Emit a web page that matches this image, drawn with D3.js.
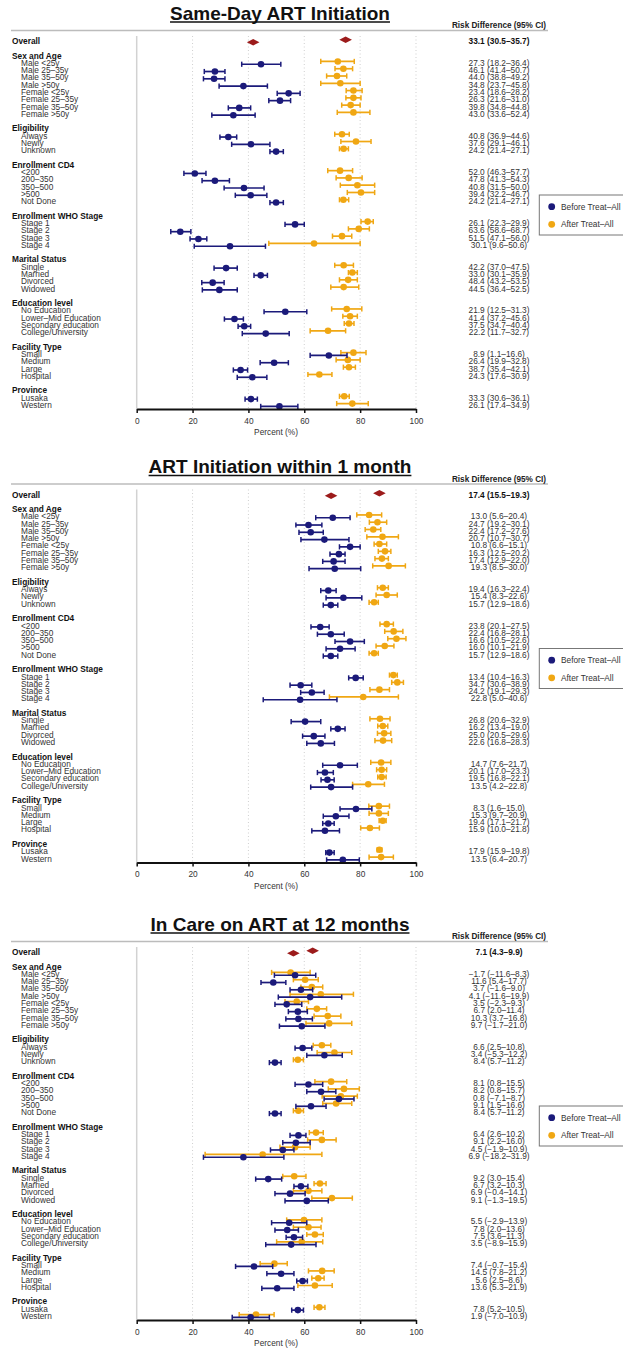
<!DOCTYPE html>
<html>
<head>
<meta charset="utf-8">
<script src="https://cdn.jsdelivr.net/npm/d3@7"></script>
<style>
  body { margin: 0; background: #fff; }
  svg { display: block; }
  text { font-family: "Liberation Sans", Arial, Helvetica, sans-serif; }
</style>
</head>
<body>
<svg id="vis" width="623" height="1351"></svg>
<script>
// ---- categories ----
var groupNames = ["Sex and Age", "Eligibility", "Enrollment CD4", "Enrollment WHO Stage",
                  "Marital Status", "Education level", "Facility Type", "Province"];
var groupItems = [
  ["Male <25y", "Male 25\u201335y", "Male 35\u201350y", "Male >50y",
   "Female <25y", "Female 25\u201335y", "Female 35\u201350y", "Female >50y"],
  ["Always", "Newly", "Unknown"],
  ["<200", "200\u2013350", "350\u2013500", ">500", "Not Done"],
  ["Stage 1", "Stage 2", "Stage 3", "Stage 4"],
  ["Single", "Married", "Divorced", "Widowed"],
  ["No Education", "Lower\u2013Mid Education", "Secondary education", "College/University"],
  ["Small", "Medium", "Large", "Hospital"],
  ["Lusaka", "Western"]
];
var panelTitles = ["Same-Day ART Initiation", "ART Initiation within 1 month", "In Care on ART at 12 months"];
var seriesNames = ["Before Treat\u2013All", "After Treat\u2013All"];
var xTicks = [0, 20, 40, 60, 80, 100];

// ---- panel 1: same-day initiation, [estimate, lower, upper] ----
var sameDayOverall = [41.7, 74.8];
var sameDayBefore = [
  [44.5,37.6,51.6],[28.0,24.2,31.6],[27.7,23.9,31.6],[38.2,29.5,46.8],[54.4,50.3,58.5],[51.3,47.3,55.1],[36.7,32.8,40.8],[34.6,26.9,42.4],
  [32.8,29.8,35.8],[40.9,34.0,47.7],[49.9,47.7,52.5],
  [20.8,16.9,24.8],[28.0,23.4,33.2],[38.4,31.3,45.6],[40.8,35.3,46.6],[49.9,47.7,52.5],
  [56.7,53.1,60.0],[15.6,12.2,19.4],[22.1,19.1,25.1],[33.4,20.6,46.1],
  [32.0,27.7,36.0],[44.4,42.0,46.8],[27.2,23.3,31.3],[29.6,23.5,36.0],
  [53.2,45.6,60.9],[35.0,31.4,38.2],[38.5,36.3,40.8],[46.2,37.8,54.6],
  [68.8,62.1,75.3],[49.2,44.2,54.3],[37.2,34.6,39.7],[41.4,36.0,46.6],
  [40.9,38.8,43.2],[51.1,44.4,57.7]
];
var sameDayAfter = [
  [72.0,65.9,77.9],[74.0,71.0,77.3],[71.7,68.0,75.2],[72.9,65.9,80.0],[77.6,75.0,80.7],[77.6,74.9,80.3],[76.6,73.4,80.0],[77.6,71.8,83.5],
  [73.5,70.9,76.1],[78.5,73.1,83.9],[74.1,72.6,75.8],
  [72.8,68.4,77.3],[75.9,71.4,80.7],[79.0,72.9,85.2],[80.3,75.4,85.2],[74.0,72.6,75.9],
  [82.7,80.3,84.7],[79.5,75.8,83.3],[73.5,70.1,77.0],[63.5,47.3,80.0],
  [74.1,70.9,77.6],[77.2,75.8,79.0],[75.7,72.6,79.0],[74.1,69.5,79.5],
  [75.2,69.8,80.6],[76.4,73.8,79.0],[76.0,74.3,77.8],[68.5,62.1,74.8],
  [77.6,73.1,82.1],[75.6,71.4,80.0],[76.0,74.0,78.3],[65.4,61.3,69.9],
  [74.3,72.6,76.1],[77.2,71.6,82.9]
];
var sameDayRD = [
  "33.1 (30.5\u201335.7)",
  "27.3 (18.2\u201336.4)","46.1 (41.4\u201350.7)","44.0 (38.8\u201349.2)","34.8 (23.7\u201345.8)","23.4 (18.6\u201328.2)","26.3 (21.6\u201331.0)","39.8 (34.8\u201344.8)","43.0 (33.6\u201352.4)",
  "40.8 (36.9\u201344.6)","37.6 (29.1\u201346.1)","24.2 (21.4\u201327.1)",
  "52.0 (46.3\u201357.7)","47.8 (41.3\u201354.3)","40.8 (31.5\u201350.0)","39.4 (32.2\u201346.7)","24.2 (21.4\u201327.1)",
  "26.1 (22.3\u201329.9)","63.6 (58.6\u201368.7)","51.5 (47.1\u201356.0)","30.1 (9.6\u201350.6)",
  "42.2 (37.0\u201347.5)","33.0 (30.1\u201335.9)","48.4 (43.2\u201353.5)","44.5 (36.4\u201352.5)",
  "21.9 (12.5\u201331.3)","41.4 (37.2\u201345.6)","37.5 (34.7\u201340.4)","22.2 (11.7\u201332.7)",
  "8.9 (1.1\u201316.6)","26.4 (19.9\u201332.8)","38.7 (35.4\u201342.1)","24.3 (17.6\u201330.9)",
  "33.3 (30.6\u201336.1)","26.1 (17.4\u201334.9)"
];

// ---- panel 2: initiation within 1 month ----
var oneMonthOverall = [69.6, 86.9];
var oneMonthBefore = [
  [70.2,64.1,76.4],[61.5,57.0,66.3],[62.3,58.1,66.8],[67.2,58.8,76.0],[76.4,72.6,80.0],[72.4,69.2,74.6],[70.5,66.6,74.6],[70.9,61.7,80.2],
  [68.6,65.9,71.4],[74.0,67.8,80.6],[69.5,66.8,72.0],
  [65.7,62.4,68.9],[69.5,64.7,74.3],[76.4,71.0,81.5],[72.8,67.8,78.2],[69.5,66.8,72.0],
  [78.4,75.9,81.1],[58.7,54.9,62.7],[62.7,58.7,67.1],[58.5,45.3,71.7],
  [60.3,55.3,65.9],[72.0,69.5,74.6],[63.4,59.4,67.4],[65.9,60.9,70.8],
  [72.8,66.6,79.0],[67.4,64.7,70.4],[68.3,66.0,70.7],[69.6,62.3,77.3],
  [78.5,72.8,84.2],[71.3,66.8,76.0],[68.6,66.6,70.7],[67.4,62.7,72.6],
  [69.0,67.7,70.7],[73.8,68.0,79.7]
];
var oneMonthAfter = [
  [83.2,78.8,87.7],[86.2,83.3,89.5],[84.7,81.8,87.4],[88.0,82.4,93.7],[86.9,85.0,89.5],[88.9,86.5,91.0],[87.8,85.3,90.1],[90.2,84.5,96.2],
  [88.1,86.2,90.1],[89.5,85.7,93.3],[85.0,83.2,86.5],
  [89.5,87.1,91.9],[92.0,88.8,95.3],[93.0,89.9,96.4],[88.8,85.7,92.1],[85.0,83.2,86.5],
  [91.9,90.5,93.3],[93.3,91.3,95.5],[86.9,83.5,90.5],[81.1,69.0,93.7],
  [87.1,83.5,90.7],[88.1,86.3,89.9],[88.6,86.2,91.0],[88.2,85.3,91.3],
  [87.5,83.8,91.0],[87.7,85.9,89.5],[87.7,86.3,89.3],[82.9,77.3,88.7],
  [86.7,83.1,90.5],[86.7,83.2,90.1],[88.1,86.8,89.3],[83.5,80.2,86.9],
  [86.9,86.1,87.8],[87.5,83.2,91.9]
];
var oneMonthRD = [
  "17.4 (15.5\u201319.3)",
  "13.0 (5.6\u201320.4)","24.7 (19.2\u201330.1)","22.4 (17.2\u201327.6)","20.7 (10.7\u201330.7)","10.8 (6.6\u201315.1)","16.3 (12.5\u201320.2)","17.4 (12.9\u201322.0)","19.3 (8.5\u201330.0)",
  "19.4 (16.3\u201322.4)","15.4 (8.3\u201322.6)","15.7 (12.9\u201318.6)",
  "23.8 (20.1\u201327.5)","22.4 (16.8\u201328.1)","16.6 (10.5\u201322.6)","16.0 (10.1\u201321.9)","15.7 (12.9\u201318.6)",
  "13.4 (10.4\u201316.3)","34.7 (30.6\u201338.9)","24.2 (19.1\u201329.3)","22.8 (5.0\u201340.6)",
  "26.8 (20.6\u201332.9)","16.2 (13.4\u201319.0)","25.0 (20.5\u201329.6)","22.6 (16.8\u201328.3)",
  "14.7 (7.6\u201321.7)","20.1 (17.0\u201323.3)","19.5 (16.8\u201322.1)","13.5 (4.2\u201322.8)",
  "8.3 (1.6\u201315.0)","15.3 (9.7\u201320.9)","19.4 (17.1\u201321.7)","15.9 (10.0\u201321.8)",
  "17.9 (15.9\u201319.8)","13.5 (6.4\u201320.7)"
];

// ---- panel 3: in care on ART at 12 months ----
var inCareOverall = [56.1, 63.0];
var inCareBefore = [
  [56.7,49.3,64.1],[48.9,44.5,53.4],[58.8,54.9,63.0],[62.1,50.7,73.4],[53.7,49.5,59.1],[57.7,54.3,61.1],[57.9,53.4,62.9],[59.1,51.1,67.4],
  [59.4,56.7,62.7],[67.2,60.9,73.6],[49.5,47.5,51.7],
  [61.5,56.7,66.6],[66.0,60.9,71.3],[72.4,67.1,77.8],[62.4,57.0,67.8],[49.5,47.5,51.7],
  [57.9,54.9,60.6],[57.0,52.3,62.1],[52.3,47.9,56.3],[38.2,23.9,52.7],
  [47.1,42.6,51.9],[58.8,56.3,61.3],[54.9,49.5,60.3],[60.9,53.1,68.6],
  [54.6,48.3,60.9],[53.9,49.5,57.9],[56.3,53.5,59.4],[55.3,46.2,64.2],
  [42.0,35.4,48.7],[51.7,46.6,56.3],[59.4,57.3,61.1],[50.3,44.8,56.3],
  [57.7,55.5,59.7],[40.8,34.2,47.5]
];
var inCareAfter = [
  [55.1,48.3,62.1],[60.3,56.1,65.0],[62.7,58.8,66.6],[65.9,54.9,77.6],[57.3,53.1,61.5],[64.5,60.9,68.0],[68.4,63.5,73.1],[68.9,60.6,77.0],
  [66.3,63.2,69.5],[70.8,64.6,77.0],[57.7,56.1,59.7],
  [69.6,63.8,75.2],[74.2,68.6,79.7],[73.1,66.4,79.0],[71.4,66.6,77.0],[57.9,56.1,59.7],
  [64.2,61.8,66.8],[66.3,61.2,71.4],[56.7,51.3,62.1],[45.1,24.5,66.3],
  [56.4,52.3,60.6],[65.6,63.5,67.8],[61.5,56.1,66.3],[69.9,62.7,77.2],
  [59.9,53.7,66.3],[61.5,56.1,66.0],[63.8,60.9,66.8],[59.1,50.1,66.6],
  [49.3,44.2,53.9],[66.4,61.5,70.7],[65.0,62.7,67.1],[63.8,57.7,70.0],
  [65.4,63.5,67.4],[42.7,36.7,49.2]
];
var inCareRD = [
  "7.1 (4.3\u20139.9)",
  "\u22121.7 (\u221211.6\u20138.3)","11.6 (5.4\u201317.7)","3.7 (\u22121.6\u20139.0)","4.1 (\u221211.6\u201319.9)","3.5 (\u22122.3\u20139.3)","6.7 (2.0\u201311.4)","10.3 (3.7\u201316.8)","9.7 (\u22121.7\u201321.0)",
  "6.6 (2.5\u201310.8)","3.4 (\u22125.3\u201312.2)","8.4 (5.7\u201311.2)",
  "8.1 (0.8\u201315.5)","8.2 (0.8\u201315.7)","0.8 (\u22127.1\u20138.7)","9.1 (1.5\u201316.6)","8.4 (5.7\u201311.2)",
  "6.4 (2.6\u201310.2)","9.1 (2.2\u201316.0)","4.5 (\u22121.9\u201310.9)","6.9 (\u221218.2\u201331.9)",
  "9.2 (3.0\u201315.4)","6.7 (3.2\u201310.3)","6.9 (\u22120.4\u201314.1)","9.1 (\u22121.3\u201319.5)",
  "5.5 (\u22122.9\u201313.9)","7.8 (2.0\u201313.6)","7.5 (3.6\u201311.3)","3.5 (\u22128.9\u201315.9)",
  "7.4 (\u22120.7\u201315.4)","14.5 (7.8\u201321.2)","5.6 (2.5\u20138.6)","13.6 (5.3\u201321.9)",
  "7.8 (5.2\u201310.5)","1.9 (\u22127.0\u201310.9)"
];

var colors = { before: "#1b1a7a", after: "#f0a713", overall: "#9c1b1b" };

var panels = [
  { title: panelTitles[0], overall: sameDayOverall, before: sameDayBefore, after: sameDayAfter, rd: sameDayRD, dy: 0 },
  { title: panelTitles[1], overall: oneMonthOverall, before: oneMonthBefore, after: oneMonthAfter, rd: oneMonthRD, dy: 453.5 },
  { title: panelTitles[2], overall: inCareOverall, before: inCareBefore, after: inCareAfter, rd: inCareRD, dy: 911 }
];

// ---- shared scales ----
var x = d3.scaleLinear().domain([0, 100]).range([136.7, 416]);
var rowY = d3.scaleLinear().domain([0, 50]).range([41, 405]);
var axisY = 409;

// row layout: overall, then blank + header + items for each group
var layout = [{ label: "Overall", kind: "header", r: 0 }];
var dataRows = [];
var r = 1;
groupNames.forEach(function(g, i) {
  r += 1;
  layout.push({ label: g, kind: "header", r: r });
  r += 1;
  groupItems[i].forEach(function(item) {
    layout.push({ label: item, kind: "item", r: r });
    dataRows.push(r);
    r += 1;
  });
});

var svg = d3.select("#vis");

function drawSeries(g, rows, color, off) {
  var s = g.append("g");
  rows.forEach(function(d, i) {
    var y = rowY(dataRows[i]) + off;
    s.append("line")
      .attr("x1", x(d[1])).attr("x2", x(d[2]))
      .attr("y1", y).attr("y2", y)
      .attr("stroke", color).attr("stroke-width", 1.7);
    [d[1], d[2]].forEach(function(v) {
      s.append("line")
        .attr("x1", x(v)).attr("x2", x(v))
        .attr("y1", y - 2.6).attr("y2", y + 2.6)
        .attr("stroke", color).attr("stroke-width", 1.5);
    });
    s.append("circle")
      .attr("cx", x(d[0])).attr("cy", y)
      .attr("r", 3.3).attr("fill", color);
  });
}

function drawPanel(p) {
  var g = svg.append("g").attr("transform", "translate(0," + p.dy + ")");

  // title, underlined
  var title = g.append("text")
    .attr("x", 280).attr("y", 19.5)
    .attr("text-anchor", "middle")
    .attr("font-size", 19).attr("font-weight", "bold")
    .attr("fill", "#111")
    .text(p.title);
  var tw = title.node().getComputedTextLength();
  g.append("line")
    .attr("x1", 280 - tw / 2).attr("x2", 280 + tw / 2)
    .attr("y1", 22).attr("y2", 22)
    .attr("stroke", "#111").attr("stroke-width", 1.4);

  g.append("line")
    .attr("x1", 11).attr("x2", 548)
    .attr("y1", 30.5).attr("y2", 30.5)
    .attr("stroke", "#bcbcbc").attr("stroke-width", 1.5);

  g.append("text")
    .attr("x", 499).attr("y", 28)
    .attr("text-anchor", "middle")
    .attr("font-size", 8.2).attr("font-weight", "bold")
    .attr("fill", "#222")
    .text("Risk Difference (95% CI)");

  // grid
  g.selectAll(".grid")
    .data(xTicks.slice(1))
    .enter()
    .append("line")
    .attr("class", "grid")
    .attr("x1", function(d) { return x(d); })
    .attr("x2", function(d) { return x(d); })
    .attr("y1", 36).attr("y2", axisY)
    .attr("stroke", "#cfcfcf").attr("stroke-width", 1)
    .attr("stroke-dasharray", "1,2.5");

  g.append("line")
    .attr("x1", x(0)).attr("x2", x(0))
    .attr("y1", 36).attr("y2", axisY)
    .attr("stroke", "#d2d2d2").attr("stroke-width", 1.5);

  // row labels
  g.selectAll(".rowlab")
    .data(layout)
    .enter()
    .append("text")
    .attr("class", "rowlab")
    .attr("x", function(d) { return d.kind === "header" ? 12 : 21; })
    .attr("y", function(d) { return rowY(d.r) + 3; })
    .attr("font-size", 8.3)
    .attr("font-weight", function(d) { return d.kind === "header" ? "bold" : "normal"; })
    .attr("fill", function(d) { return d.kind === "header" ? "#111" : "#333"; })
    .text(function(d) { return d.label; });

  // risk difference column
  g.selectAll(".rd")
    .data(p.rd)
    .enter()
    .append("text")
    .attr("class", "rd")
    .attr("x", 499)
    .attr("y", function(d, i) { return rowY(i === 0 ? 0 : dataRows[i - 1]) + 3; })
    .attr("text-anchor", "middle")
    .attr("font-size", 8.3)
    .attr("font-weight", function(d, i) { return i === 0 ? "bold" : "normal"; })
    .attr("fill", function(d, i) { return i === 0 ? "#111" : "#333"; })
    .text(function(d) { return d; });

  // overall diamonds
  g.selectAll(".overall")
    .data(p.overall)
    .enter()
    .append("path")
    .attr("class", "overall")
    .attr("d", function(d, i) {
      var cx = x(d), cy = rowY(0) + (i === 0 ? 1.2 : -1.2);
      return "M" + (cx - 6.3) + "," + cy + "L" + cx + "," + (cy - 3.2) +
             "L" + (cx + 6.3) + "," + cy + "L" + cx + "," + (cy + 3.2) + "Z";
    })
    .attr("fill", colors.overall);

  drawSeries(g, p.after, colors.after, -1.4);
  drawSeries(g, p.before, colors.before, 1.4);

  // x axis
  var xAxis = d3.axisBottom(x)
    .tickValues(xTicks)
    .tickSize(4)
    .tickSizeOuter(0)
    .tickPadding(5);
  var ax = g.append("g")
    .attr("transform", "translate(0," + axisY + ")")
    .call(xAxis);
  ax.select(".domain").attr("stroke", "#111").attr("stroke-width", 1.8);
  ax.selectAll(".tick line").attr("stroke", "#111").attr("stroke-width", 1.5);
  ax.selectAll(".tick text")
    .attr("font-size", 8.3)
    .attr("fill", "#333")
    .style("font-family", "'Liberation Sans', Arial, sans-serif");

  g.append("text")
    .attr("x", 276).attr("y", 435)
    .attr("text-anchor", "middle")
    .attr("font-size", 8.3)
    .attr("fill", "#333")
    .text("Percent (%)");

  // legend
  var lg = g.append("g").attr("transform", "translate(539.3,195)");
  lg.append("rect")
    .attr("width", 100).attr("height", 40)
    .attr("fill", "#fff").attr("stroke", "#777").attr("stroke-width", 1);
  [colors.before, colors.after].forEach(function(c, i) {
    lg.append("circle")
      .attr("cx", 12.4).attr("cy", 11.7 + i * 17.6)
      .attr("r", 3.4).attr("fill", c);
    lg.append("text")
      .attr("x", 21.7).attr("y", 14.7 + i * 17.6)
      .attr("font-size", 8.3).attr("fill", "#333")
      .text(seriesNames[i]);
  });
}

panels.forEach(drawPanel);
</script>
</body>
</html>
